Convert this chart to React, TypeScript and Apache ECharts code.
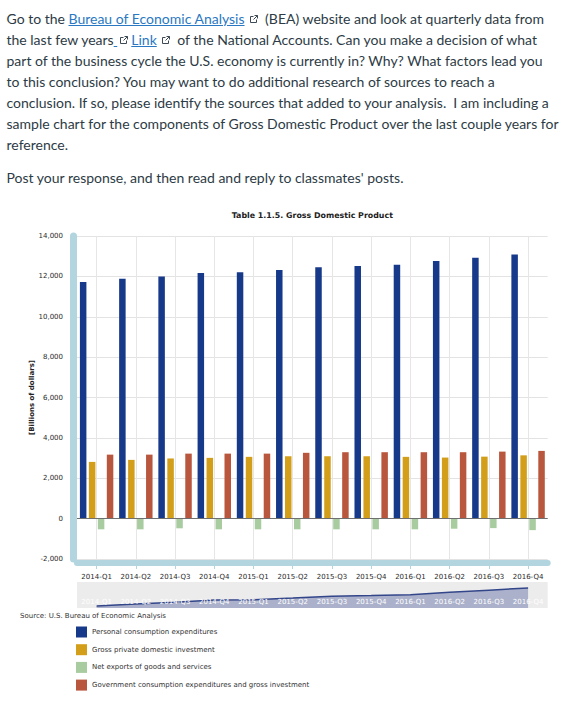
import React, { useEffect, useRef } from 'react';
import * as echarts from 'echarts';

const categories = ['2014-Q1', '2014-Q2', '2014-Q3', '2014-Q4', '2015-Q1', '2015-Q2', '2015-Q3', '2015-Q4', '2016-Q1', '2016-Q2', '2016-Q3', '2016-Q4'];
const personalConsumption = [11720, 11880, 12000, 12170, 12200, 12320, 12450, 12510, 12580, 12760, 12920, 13080];
const grossPrivateInvestment = [2810, 2910, 2980, 3010, 3060, 3090, 3090, 3090, 3060, 3025, 3070, 3135];
const netExports = [-530, -530, -480, -530, -530, -530, -530, -530, -530, -500, -470, -570];
const government = [3170, 3170, 3220, 3220, 3220, 3260, 3290, 3290, 3290, 3290, 3320, 3355];
const seriesNames = [
  'Personal consumption expenditures',
  'Gross private domestic investment',
  'Net exports of goods and services',
  'Government consumption expenditures and gross investment',
];
const seriesColors = ['#17398a', '#d39f1a', '#a8cc9f', '#b9573e'];
const chartTitle = 'Table 1.1.5. Gross Domestic Product';
const yAxisTitle = '[Billions of dollars]';
const sourceNote = 'Source: U.S. Bureau of Economic Analysis';

const FONT = 'DejaVu Sans';
const WALL = '#b2d5e0';

const ExtIcon = ({ ml = 4, mr = 4 }: { ml?: number; mr?: number }) => (
  <svg width="10" height="10" viewBox="0 0 10 10" style={{ display: 'inline-block', verticalAlign: '0px', marginLeft: ml, marginRight: mr }}>
    <path d="M4.5 2.5H1.5V8.5H7.5V5.5" fill="none" stroke="#3d4a55" strokeWidth="1" />
    <path d="M5.5 1.5H8.5V4.5M8.5 1.5L4.5 5.5" fill="none" stroke="#3d4a55" strokeWidth="1" />
  </svg>
);

const linkStyle: React.CSSProperties = { color: '#2a78c2', textDecoration: 'underline' };

export default function App() {
  const ref = useRef<HTMLDivElement>(null);

  useEffect(() => {
    if (!ref.current) return;
    const chart = echarts.init(ref.current, undefined, { renderer: 'svg' });
    const barData = [personalConsumption, grossPrivateInvestment, netExports, government];
    const option: any = {
      animation: false,
      textStyle: { fontFamily: FONT },
      grid: [
        { left: 77, right: 22.3, top: 236, height: 323, containLabel: false, outerBoundsMode: 'none' },
        { left: 77, right: 22.3, top: 582, height: 26, show: true, backgroundColor: '#ececec', borderWidth: 0, containLabel: false, outerBoundsMode: 'none' },
      ],
      xAxis: [
        {
          type: 'category',
          gridIndex: 0,
          data: categories,
          boundaryGap: true,
          offset: 4,
          axisLine: { show: true, onZero: false, lineStyle: { color: WALL, width: 6 } },
          axisTick: { show: true, alignWithLabel: true, length: 6, lineStyle: { color: WALL, width: 1 } },
          axisLabel: { fontSize: 7, color: '#2a2a2a', margin: 10, fontFamily: FONT, interval: 0 },
          splitLine: { show: false },
        },
        {
          type: 'category',
          gridIndex: 1,
          data: categories,
          boundaryGap: true,
          z: 5,
          axisLine: { show: false },
          axisTick: { show: false },
          axisLabel: { inside: true, fontSize: 7, color: '#ffffff', margin: 3, fontFamily: FONT, interval: 0 },
          splitLine: { show: false },
        },
      ],
      yAxis: [
        {
          type: 'value',
          gridIndex: 0,
          min: -2000,
          max: 14000,
          interval: 2000,
          offset: 3.5,
          axisLine: { show: true, lineStyle: { color: WALL, width: 7 } },
          axisTick: { show: false },
          axisLabel: {
            fontSize: 7,
            color: '#2a2a2a',
            margin: 10.5,
            fontFamily: FONT,
            formatter: (v: number) => v.toLocaleString('en-US'),
          },
          splitLine: { show: true, lineStyle: { color: '#e3e3e3', width: 1 } },
        },
        {
          type: 'value',
          gridIndex: 1,
          min: 11570,
          max: 13535,
          show: false,
          splitLine: { show: false },
        },
      ],
      legend: {
        data: seriesNames,
        orient: 'vertical',
        left: 76,
        top: 626.5,
        padding: 0,
        itemWidth: 11,
        itemHeight: 11,
        itemGap: 6.7,
        icon: 'rect',
        selectedMode: false,
        textStyle: { fontSize: 7, color: '#333', fontFamily: FONT },
      },
      graphic: [
        {
          type: 'text',
          x: 312.3,
          y: 215.7,
          style: { text: chartTitle, align: 'center', verticalAlign: 'middle', fontSize: 7.9, fontWeight: 'bold', fill: '#222', fontFamily: FONT },
        },
        {
          type: 'text',
          x: 31.5,
          y: 397.5,
          rotation: Math.PI / 2,
          style: { text: yAxisTitle, align: 'center', verticalAlign: 'middle', fontSize: 7, fontWeight: 'bold', fill: '#222', fontFamily: FONT },
        },
        {
          type: 'text',
          x: 20,
          y: 615.7,
          style: { text: sourceNote, align: 'left', verticalAlign: 'middle', fontSize: 7, fill: '#333', fontFamily: FONT },
        },
      ],
      series: [
        {
          name: 'gridlines',
          type: 'line',
          xAxisIndex: 0,
          yAxisIndex: 0,
          data: categories.map(() => null),
          symbol: 'none',
          silent: true,
          z: 1,
          markLine: {
            silent: true,
            symbol: 'none',
            label: { show: false },
            animation: false,
            data: [
              ...categories.map((c) => ({ xAxis: c, lineStyle: { color: '#e6e6e6', width: 1, type: 'solid' } })),
              { yAxis: 0, lineStyle: { color: '#6f6f6f', width: 1, type: 'solid' } },
            ],
          },
        },
        ...seriesNames.map((name, i) => ({
          name,
          type: 'bar',
          xAxisIndex: 0,
          yAxisIndex: 0,
          data: barData[i],
          barWidth: 6.5,
          barGap: '38%',
          z: 2,
          itemStyle: { color: seriesColors[i], borderWidth: 0 },
        })),
        {
          name: 'navigator',
          type: 'line',
          xAxisIndex: 1,
          yAxisIndex: 1,
          data: personalConsumption,
          symbol: 'none',
          silent: true,
          lineStyle: { color: '#33468a', width: 1.5 },
          areaStyle: { color: 'rgba(28,48,128,0.45)' },
          z: 2,
        },
      ],
    };
    chart.setOption(option);
    return () => chart.dispose();
  }, []);

  const lineStyle: React.CSSProperties = { whiteSpace: 'pre', height: 21 };

  return (
    <div style={{ position: 'absolute', left: 0, top: 0, width: 570, height: 710, background: '#fff' }}>
      <div ref={ref} style={{ position: 'absolute', left: 0, top: 0, width: 570, height: 710 }} />
      <div
        style={{
          position: 'absolute',
          left: 6.5,
          top: 8,
          fontFamily: 'Lato, sans-serif',
          fontSize: 14,
          lineHeight: '21px',
          color: '#2d3b45',
          pointerEvents: 'none',
        }}
      >
        <div style={lineStyle}>
          Go to the <span style={linkStyle}>Bureau of Economic Analysis</span>
          <ExtIcon ml={4} mr={3} /> (BEA) website and look at quarterly data from
        </div>
        <div style={lineStyle}>
          the last few years<span style={linkStyle}> </span>
          <ExtIcon ml={2} mr={2} />
          <span style={linkStyle}>Link</span>
          <ExtIcon ml={4} mr={3} /> of the National Accounts. Can you make a decision of what
        </div>
        <div style={lineStyle}>part of the business cycle the U.S. economy is currently in? Why? What factors lead you</div>
        <div style={lineStyle}>to this conclusion? You may want to do additional research of sources to reach a</div>
        <div style={lineStyle}>conclusion. If so, please identify the sources that added to your analysis.  I am including a</div>
        <div style={lineStyle}>sample chart for the components of Gross Domestic Product over the last couple years for</div>
        <div style={lineStyle}>reference.</div>
        <div style={{ ...lineStyle, marginTop: 12 }}>Post your response, and then read and reply to classmates' posts.</div>
      </div>
    </div>
  );
}
